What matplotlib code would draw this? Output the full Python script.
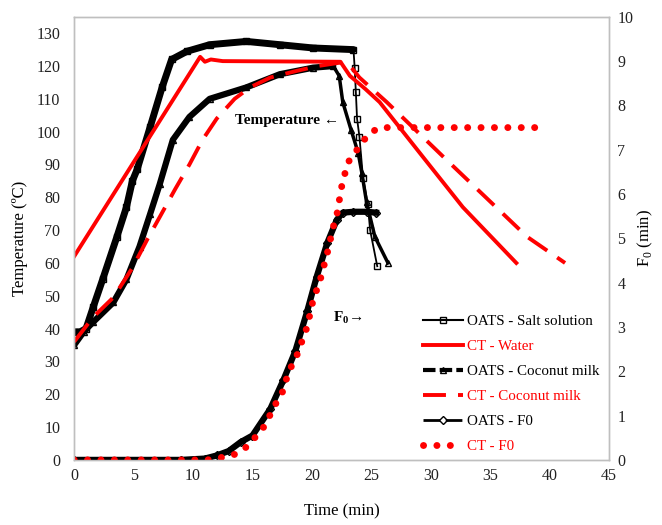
import matplotlib
matplotlib.use("Agg")
import matplotlib.pyplot as plt
from matplotlib.lines import Line2D

plt.rcParams['font.family'] = ['Liberation Serif', 'DejaVu Serif']
plt.rcParams['mathtext.fontset'] = 'custom'
plt.rcParams['mathtext.rm'] = 'Liberation Serif'
plt.rcParams['mathtext.bf'] = 'Liberation Serif:bold'

# OATS - salt solution (temperature, C)
salt_t = [0, 0.5, 1.0, 1.6, 2.4, 3.6, 4.4, 4.9, 5.3, 6.4, 7.4, 8.2, 9.5, 11.4, 14.5, 17.3, 20.1, 23.5,
          23.6, 23.7, 23.8, 24.0, 24.3, 24.7, 24.9, 25.5]
salt_T = [39, 39, 40, 46.5, 55, 68, 77, 85, 88.5, 101.5, 113.5, 122, 124.5, 126.5, 127.5, 126.5, 125.5, 125,
          119.5, 112, 104, 98.5, 86, 78, 70, 59]

# CT - water
water_t = [0, 10.6, 11.0, 11.5, 12.5, 22.4, 23.2, 24.5, 25.7, 29.3, 32.7, 37.2]
water_T = [62, 122.8, 121.3, 122, 121.5, 121.3, 117, 113, 109, 92.5, 77, 60]

# OATS - coconut milk
coco_t = [0, 0.8, 1.6, 3.3, 4.4, 5.5, 6.4, 7.2, 8.3, 9.7, 11.4, 14.5, 17.3, 20.1, 21.8,
          22.3, 22.6, 23.3, 23.9, 24.2, 24.6, 25.3, 26.4]
coco_T = [35, 39, 42, 48, 55, 65, 75, 84, 97.5, 104.5, 110, 113.5, 117.5, 119.5, 120,
          117, 109, 100.5, 93.5, 87.5, 78.5, 68, 60]

# CT - coconut milk
ccm_t = [0, 1.6, 3.3, 4.9, 6.2, 7.2, 8.5, 9.7, 10.8, 12.0, 13.5, 14.8, 16.5, 18.7, 20.5, 22.3, 23.0,
         24.0, 26.3, 31.3, 38.1, 41.3]
ccm_T = [36, 43.5, 49.5, 58.5, 67.5, 74, 82.5, 90, 97.5, 104, 110, 113.5, 116.5, 118.5, 120, 121, 121,
         116.5, 109, 91.5, 68, 60]

# OATS - F0 (min)
of0_t = [0, 9, 11, 12, 13, 14, 15, 16.5, 17.6, 18.6, 19.6, 20.4, 21.3, 22.1, 22.6, 23.5, 24.6, 25.4]
of0_F = [0, 0, 0.03, 0.1, 0.2, 0.4, 0.55, 1.15, 1.8, 2.45, 3.35, 4.13, 4.9, 5.42, 5.58, 5.6, 5.6, 5.58]

# CT - F0 (min)
ctf_t = [0, 11.2, 12.3, 13.4, 14.4, 15.2, 15.9, 16.4, 16.9, 17.5, 17.8, 18.2, 18.7, 19.6, 20.1, 20.7,
         21.3, 21.8, 22.1, 22.5, 23.0, 23.5, 24.2, 24.9, 25.7, 39.2]
ctf_F = [0, 0, 0.05, 0.11, 0.27, 0.5, 0.72, 0.97, 1.24, 1.51, 1.78, 2.07, 2.33, 3.0, 3.6, 4.06,
         4.67, 5.26, 5.53, 6.16, 6.7, 6.88, 7.16, 7.38, 7.5, 7.5]

labels = ['OATS - Salt solution', 'CT - Water', 'OATS - Coconut milk',
          'CT - Coconut milk', 'OATS - F0', 'CT - F0']

red = '#FF0000'
grey = '#BFBFBF'
dots = (0, (0.01, 1.92))

fig = plt.figure(figsize=(6.62, 5.25), dpi=100)
ax = fig.add_axes([0.112, 0.124, 0.808, 0.844])
ax2 = ax.twinx()

# temperature series
ax.plot(salt_t[:18], salt_T[:18], color='black', lw=5, solid_capstyle='round')
ax.plot(salt_t, salt_T, color='black', lw=1.3, marker='s', ms=5, mfc='none', mec='black')
ax.plot(water_t, water_T, color=red, lw=2.8)
ax.plot(coco_t[:15], coco_T[:15], color='black', lw=4.5, solid_capstyle='round')
ax.plot(coco_t, coco_T, color='black', lw=2.5, marker='^', ms=5, mfc='none', mec='black')
ax.plot(ccm_t, ccm_T, color=red, lw=2.8, ls=(0, (5.9, 3.1)))

# F0 series
ax2.plot(of0_t, of0_F, color='black', lw=4.5, marker='D', ms=4, mfc='none', mec='black')
ax2.plot(ctf_t, ctf_F, color=red, lw=5, ls=dots, dash_capstyle='round')

ax.set_xlim(0, 45)
ax.set_ylim(0, 135)
ax2.set_ylim(0, 10)
ax.set_xticks(range(0, 46, 5))
ax.set_yticks(range(0, 131, 10))
ax2.set_yticks(range(0, 11))

for a in (ax, ax2):
    for s in a.spines.values():
        s.set_color(grey)
        s.set_linewidth(1)
    a.tick_params(length=0, labelsize=11.5, colors='#222222', pad=6)
ax.tick_params(axis='y', pad=10)
ax2.tick_params(axis='y', pad=6)

ax.set_xlabel('Time (min)', fontsize=12, labelpad=14)
ax.set_ylabel('Temperature (ºC)', fontsize=12, labelpad=6)
ax2.set_ylabel(r'F$_0$ (min)', fontsize=12, labelpad=2)

ax.text(13.5, 103.4, 'Temperature \u2190', fontsize=11, fontweight='bold', va='center')
ax.text(21.8, 43.3, r'$\mathbf{F}_\mathbf{0}$' + '\u2192', fontsize=11, fontweight='bold', va='center')

handles = [
    Line2D([], [], color='black', lw=1.5, marker='s', ms=5, mfc='none'),
    Line2D([], [], color=red, lw=2.8),
    Line2D([], [], color='black', lw=3, ls=(0, (3, 1)), marker='^', ms=5, mfc='none'),
    Line2D([], [], color=red, lw=2.8, ls=(0, (5.9, 3.1))),
    Line2D([], [], color='black', lw=2, ls=(0, (6, 2)), marker='D', ms=4, mfc='none'),
    Line2D([], [], color=red, lw=5, ls=dots, dash_capstyle='round'),
]
leg = ax2.legend(handles, labels, loc='upper left', bbox_to_anchor=(0.652, 0.328),
                 frameon=False, fontsize=10.8, handlelength=2.7, handletextpad=0.25,
                 labelspacing=0.77, borderpad=0, borderaxespad=0)
for txt, h in zip(leg.get_texts(), handles):
    txt.set_color(h.get_color())

fig.savefig('out.png', dpi=100)
